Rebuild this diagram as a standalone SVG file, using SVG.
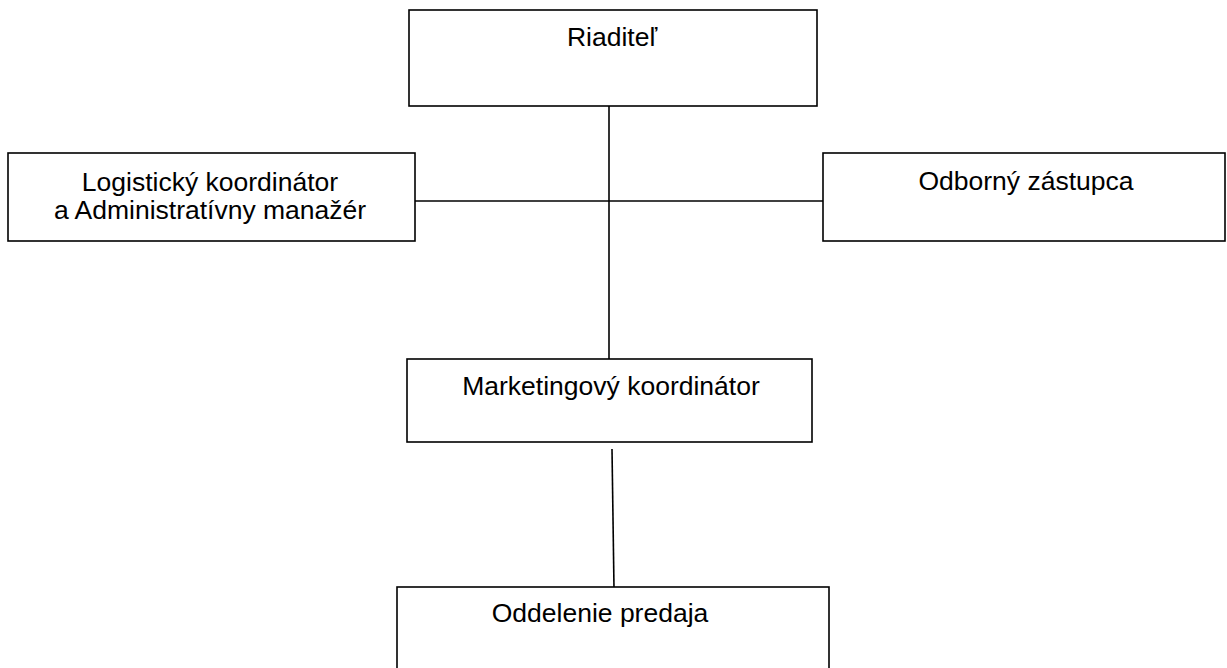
<svg xmlns="http://www.w3.org/2000/svg" width="1227" height="668" viewBox="0 0 1227 668">
<style>
.box{fill:#fff;stroke:#000;stroke-width:1.6}
.lbl{font-family:"Liberation Sans",Arial,sans-serif;font-size:26.5px;fill:#000;text-anchor:middle}
.conn{stroke:#000;stroke-width:1.6;fill:none}
</style>
<rect width="1227" height="668" fill="#fff"/>
<g id="connectors">
<line class="conn" x1="609" y1="106" x2="609" y2="359"/>
<line class="conn" x1="415" y1="201" x2="823" y2="201"/>
<line class="conn" x1="612" y1="449" x2="614" y2="588"/>
</g>
<g id="riaditel">
<rect class="box" x="409" y="10" width="408" height="96"/>
<text class="lbl" x="612" y="46">Riaditeľ</text>
</g>
<g id="logisticky">
<rect class="box" x="8" y="153" width="407" height="88"/>
<text class="lbl" x="210" y="191">Logistický koordinátor</text>
<text class="lbl" x="210" y="219">a Administratívny manažér</text>
</g>
<g id="odborny">
<rect class="box" x="823" y="153" width="402" height="88"/>
<text class="lbl" x="1026" y="190">Odborný zástupca</text>
</g>
<g id="marketingovy">
<rect class="box" x="407" y="359" width="405" height="83"/>
<text class="lbl" x="611" y="395">Marketingový koordinátor</text>
</g>
<g id="oddelenie">
<rect class="box" x="397" y="587" width="432" height="100"/>
<text class="lbl" x="600" y="622">Oddelenie predaja</text>
</g>
</svg>
